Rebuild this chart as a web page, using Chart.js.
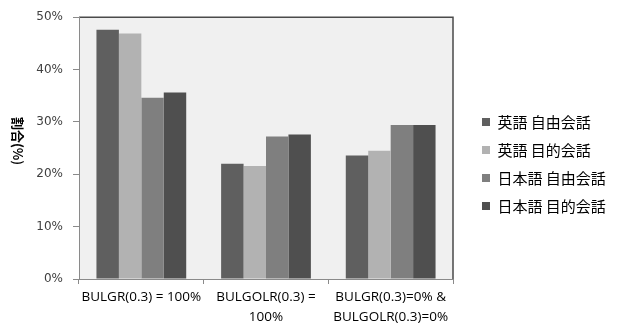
<!DOCTYPE html>
<html>
<head>
<meta charset="utf-8">
<script src="https://cdn.jsdelivr.net/npm/chart.js@4"></script>
<style>
  html, body { margin: 0; padding: 0; background: #fff; }
  #wrap { width: 617px; height: 329px; position: relative; }
</style>
</head>
<body>
<div id="wrap"><canvas id="chart"></canvas></div>
<script>
// categories (x labels, multi-line)
const categories = [
  ['BULGR(0.3) = 100%'],
  ['BULGOLR(0.3) =', '100%'],
  ['BULGR(0.3)=0% &', 'BULGOLR(0.3)=0%']
];
const seriesNames = ['英語 自由会話', '英語 目的会話', '日本語 自由会話', '日本語 目的会話'];
const engFree   = [47.6, 22.0, 23.6];
const engGoal   = [46.9, 21.6, 24.5];
const jpnFree   = [34.6, 27.2, 29.4];
const jpnGoal   = [35.6, 27.6, 29.4];
const yTicks = [0, 10, 20, 30, 40, 50];
const yTitle = '割合(%)';

const colors = ['#5f5f5f', '#b2b2b2', '#7f7f7f', '#4f4f4f'];
const seriesValues = [engFree, engGoal, jpnFree, jpnGoal];

const LEGEND_WIDTH = 164;  // space kept for the legend at the right
const LEGEND_SHIFT = 16;   // push legend items away from the plot
const LEGEND_RAISE = 6;

// plot background + dark top/right frame, y title, legend sizing
const plotFrame = {
  id: 'plotFrame',
  afterInit(chart) {
    const legend = chart.legend;
    const fit = legend.fit;
    legend.fit = function () {
      fit.call(this);
      this.width = LEGEND_WIDTH;
    };
  },
  afterLayout(chart) {
    chart.legend.left += LEGEND_SHIFT;
    chart.legend.top -= LEGEND_RAISE;
    chart.legend.bottom -= LEGEND_RAISE;
  },
  beforeDraw(chart) {
    const { ctx, chartArea: a } = chart;
    ctx.save();
    ctx.fillStyle = '#f0f0f0';
    ctx.fillRect(a.left, a.top, a.right - a.left, a.bottom - a.top);
    ctx.strokeStyle = '#4a4a4a';
    ctx.lineWidth = 1.5;
    ctx.beginPath();
    ctx.moveTo(a.left, a.top);
    ctx.lineTo(a.right, a.top);
    ctx.lineTo(a.right, a.bottom);
    ctx.stroke();
    ctx.restore();
  },
  afterDraw(chart) {
    const { ctx, chartArea: a } = chart;
    ctx.save();
    ctx.translate(18, (a.top + a.bottom) / 2 - 7);
    ctx.rotate(Math.PI / 2);
    ctx.font = 'bold 13px "Noto Sans CJK JP"';
    ctx.fillStyle = '#000';
    ctx.textAlign = 'center';
    ctx.textBaseline = 'middle';
    ctx.fillText(yTitle, 0, 0);
    ctx.restore();
  }
};

new Chart(document.getElementById('chart'), {
  type: 'bar',
  data: {
    labels: categories,
    datasets: seriesNames.map((name, i) => ({
      label: name,
      data: seriesValues[i],
      backgroundColor: colors[i],
      borderWidth: 0,
      barPercentage: 1,
      categoryPercentage: 0.72
    }))
  },
  options: {
    responsive: true,
    maintainAspectRatio: false,
    animation: false,
    layout: { padding: { top: 11, right: 0, left: 0, bottom: 0 } },
    plugins: {
      tooltip: { enabled: false },
      legend: {
        position: 'right',
        align: 'center',
        labels: {
          boxWidth: 8,
          boxHeight: 8,
          padding: 13,
          color: '#000',
          font: { family: '"Noto Sans CJK JP"', size: 15 }
        }
      }
    },
    scales: {
      x: {
        grid: {
          offset: true,
          drawOnChartArea: false,
          drawTicks: true,
          tickLength: 5,
          color: '#8a8a8a'
        },
        border: { color: '#8a8a8a' },
        ticks: {
          color: '#000',
          padding: 3,
          maxRotation: 0,
          font: { family: '"Open Sans"', size: 13.5, lineHeight: 1.5 }
        },
        afterFit(scale) { scale.height = 50; }
      },
      y: {
        min: 0,
        max: 50,
        afterBuildTicks(scale) { scale.ticks = yTicks.map(v => ({ value: v })); },
        grid: {
          drawOnChartArea: false,
          drawTicks: true,
          tickLength: 6,
          color: '#8a8a8a'
        },
        border: { color: '#8a8a8a' },
        ticks: {
          color: '#404040',
          padding: 10,
          font: { family: '"DejaVu Sans"', size: 12 },
          callback: v => v + '%'
        },
        afterFit(scale) { scale.width = 79; }
      }
    }
  },
  plugins: [plotFrame]
});
</script>
</body>
</html>
